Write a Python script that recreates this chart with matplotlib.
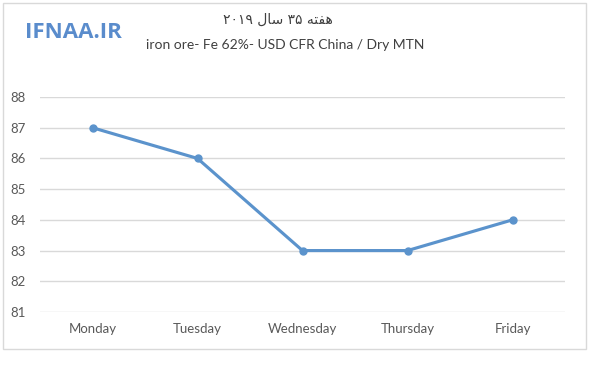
import matplotlib.pyplot as plt
from matplotlib.patches import Rectangle

days = ['Monday', 'Tuesday', 'Wednesday', 'Thursday', 'Friday']
prices = [87, 86, 83, 83, 84]
y_ticks = [81, 82, 83, 84, 85, 86, 87, 88]

# Persian title in visual (left-to-right) order with shaped glyphs
title_fa = '۲۰۱۹ ' + '\uFEDD\uFE8E\uFEB3' + ' ۳۵ ' + '\uFEEA\uFE98\uFED4\uFEEB'
title_en = 'iron ore- Fe 62%- USD CFR China / Dry MTN'

plt.rcParams['font.family'] = ['Lato', 'DejaVu Sans']

fig = plt.figure(figsize=(6, 3.66), dpi=100)
fig.patches.append(Rectangle((3 / 600, 1 - 349 / 366), 583 / 600, 346 / 366,
                             transform=fig.transFigure, fill=False,
                             edgecolor='#d9d9d9', linewidth=1))

ax = fig.add_axes([40 / 600, 1 - 312 / 366, 525 / 600, 215 / 366])
x = range(len(days))
ax.plot(x, prices, color='#5b93cc', linewidth=2.25, marker='o', markersize=5)
ax.set_xlim(-0.5, len(days) - 0.5)
ax.set_ylim(81, 88)
ax.set_yticks(y_ticks)
ax.set_xticks(list(x))
ax.set_xticklabels(days)
ax.grid(axis='y', color='#d9d9d9', linewidth=1)
ax.set_axisbelow(True)
for s in ax.spines.values():
    s.set_visible(False)
ax.tick_params(length=0, colors='#595959', labelsize=9.5)
ax.tick_params(axis='y', pad=10)
ax.tick_params(axis='x', pad=8)

fig.text(278 / 600, 1 - 20 / 366, title_fa, ha='center', va='center',
         fontsize=10, color='#404040', family='DejaVu Sans')
fig.text(285 / 600, 1 - 45 / 366, title_en, ha='center', va='center',
         fontsize=10, color='#404040')
fig.text(25 / 600, 1 - 32 / 366, 'IFNAA.IR', ha='left', va='center',
         fontsize=16, fontweight='bold', color='#5a8ccc', family='Open Sans')

fig.savefig('out.png', dpi=100)
